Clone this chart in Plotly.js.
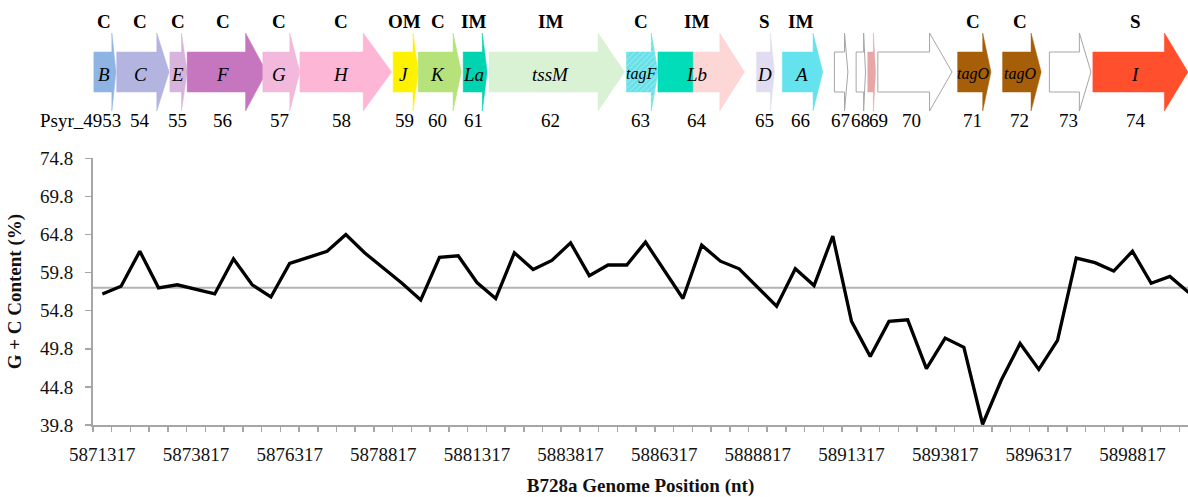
<!DOCTYPE html>
<html><head><meta charset="utf-8">
<script src="https://cdn.plot.ly/plotly-3.0.1.min.js"></script>
<style>html,body{margin:0;padding:0;background:#fff}</style>
</head><body>
<div id="chart" style="width:1188px;height:497px"></div>
<script>
// ---------- G+C content data ----------
const positions = [5871317, 5871817, 5872317, 5872817, 5873317, 5873817, 5874317, 5874817, 5875317, 5875817,
  5876317, 5876817, 5877317, 5877817, 5878317, 5878817, 5879317, 5879817, 5880317, 5880817,
  5881317, 5881817, 5882317, 5882817, 5883317, 5883817, 5884317, 5884817, 5885317, 5885817,
  5886317, 5886817, 5887317, 5887817, 5888317, 5888817, 5889317, 5889817, 5890317, 5890817,
  5891317, 5891817, 5892317, 5892817, 5893317, 5893817, 5894317, 5894817, 5895317, 5895817,
  5896317, 5896817, 5897317, 5897817, 5898317, 5898817, 5899317, 5899817, 5900317];
const gcContent = [57.0, 58.0, 62.6, 57.8, 58.2, 57.6, 57.0, 61.6, 58.2, 56.6,
  61.0, 61.8, 62.6, 64.8, 62.4, 60.4, 58.4, 56.2, 61.8, 62.0,
  58.5, 56.4, 62.4, 60.2, 61.4, 63.7, 59.4, 60.8, 60.8, 63.8,
  60.1, 56.4, 63.4, 61.3, 60.3, 57.9, 55.4, 60.3, 58.1, 64.6,
  53.4, 48.8, 53.4, 53.6, 47.2, 51.2, 50.0, 39.9, 45.7, 50.5,
  47.1, 50.9, 61.7, 61.1, 60.0, 62.6, 58.4, 59.3, 57.2];
const genomeAverage = 57.8;
const xTickVals = [5871317, 5873817, 5876317, 5878817, 5881317, 5883817, 5886317, 5888817, 5891317, 5893817, 5896317, 5898817];
const xTickText = ['5871317', '5873817', '5876317', '5878817', '5881317', '5883817', '5886317', '5888817', '5891317', '5893817', '5896317', '5898817'];
const yTickVals = [39.8, 44.8, 49.8, 54.8, 59.8, 64.8, 69.8, 74.8];
const yTickText = ['39.8', '44.8', '49.8', '54.8', '59.8', '64.8', '69.8', '74.8'];

// ---------- gene map data ----------
const geneNames = ['B', 'C', 'E', 'F', 'G', 'H', 'J', 'K', 'La', 'tssM', 'tagF', 'Lb', 'D', 'A', '', '', '', '', 'tagO', 'tagO', '', 'I'];
const geneIds = ['Psyr_4953', '54', '55', '56', '57', '58', '59', '60', '61', '62', '63', '64', '65', '66', '67', '68', '69', '70', '71', '72', '73', '74'];
const geneClass = ['C', 'C', 'C', 'C', 'C', 'C', 'OM', 'C', 'IM', 'IM', 'C', 'IM', 'S', 'IM', '', '', '', '', 'C', 'C', '', 'S'];
const geneStart = [5871090, 5871700, 5873120, 5873580, 5875600, 5876590, 5879080, 5879750, 5880950, 5881640, 5885310, 5886150, 5888780, 5889470, 5890860, 5891440, 5891750, 5892020, 5894150, 5895350, 5896600, 5897760];
const geneHead = [5871570, 5872770, 5873430, 5875140, 5876320, 5878280, 5879610, 5880680, 5881460, 5884550, 5885970, 5887800, 5889150, 5890290, 5891130, 5891640, 5891900, 5893400, 5894820, 5896110, 5897400, 5899670];
const geneEnd = [5871680, 5873100, 5873580, 5875700, 5876590, 5879040, 5879750, 5880900, 5881590, 5885260, 5886150, 5888460, 5889260, 5890550, 5891220, 5891690, 5891960, 5894000, 5895040, 5896380, 5897710, 5900300];
const geneColor = ['#8DB4E2', '#B4B4E0', '#D7B4DB', '#C676BF', '#F2B9DC', '#FDB6D6', '#FFF200', '#B5E27A', '#00D3B0', '#D9F2D4', '#66E0E8', '#FDD6D6', '#E1DCF0', '#64E3EF', '#FFFFFF', '#FFFFFF', '#E8A6A6', '#FFFFFF', '#A65E08', '#A65E08', '#FFFFFF', '#FF4F2C'];
// Lb is two-coloured: first part of its body
const overlayGene = [11];
const overlayEnd = [5887080];
const overlayColor = ['#00DDB8'];

// ---------- layout constants ----------
const W = 1188, H = 497, M = {l: 93, r: 0, t: 0, b: 72};
const X_RANGE = [5871067, 5900300];
const pxPerNt = (W - M.l - M.r) / (X_RANGE[1] - X_RANGE[0]);
const BODY_TOP = 52, BODY_BOT = 92, HEAD_TOP = 33, HEAD_BOT = 111, MID = 72;
const Y_CLASS = 21, Y_NAME = 74, Y_NUM = 120;
const SERIF = 'Liberation Serif, Times New Roman, serif';

const traces = [];
for (let i = 0; i < geneNames.length; i++) {
  const s = geneStart[i], h = geneHead[i], e = geneEnd[i];
  const white = geneColor[i].toUpperCase() === '#FFFFFF';
  const t = {
    x: [s, h, h, e, h, h, s, s],
    y: [BODY_TOP, BODY_TOP, HEAD_TOP, MID, HEAD_BOT, BODY_BOT, BODY_BOT, BODY_TOP],
    xaxis: 'x2', yaxis: 'y2', type: 'scatter', mode: 'lines', fill: 'toself',
    fillcolor: geneColor[i],
    line: {color: white ? '#A6A6A6' : geneColor[i], width: white ? 1 : 0.5},
    hoverinfo: 'skip', showlegend: false
  };
  if (geneNames[i] === 'tagF') {
    t.fillpattern = {shape: '/', bgcolor: geneColor[i], fgcolor: '#92E9EE', size: 4, solidity: 0.3};
  }
  traces.push(t);
}
for (let k = 0; k < overlayGene.length; k++) {
  const g = overlayGene[k];
  traces.push({
    x: [geneStart[g], overlayEnd[k], overlayEnd[k], geneStart[g], geneStart[g]],
    y: [BODY_TOP, BODY_TOP, BODY_BOT, BODY_BOT, BODY_TOP],
    xaxis: 'x2', yaxis: 'y2', type: 'scatter', mode: 'lines', fill: 'toself',
    fillcolor: overlayColor[k], line: {color: overlayColor[k], width: 0.5},
    hoverinfo: 'skip', showlegend: false
  });
}

traces.push({
  x: positions, y: gcContent, type: 'scatter', mode: 'lines',
  line: {color: '#000000', width: 3.3}, xaxis: 'x', yaxis: 'y',
  hoverinfo: 'skip', showlegend: false
});

// ---------- gene annotations ----------
const annotations = [];
let prevNumPx = -1e9;
for (let i = 0; i < geneNames.length; i++) {
  const cx = geneStart[i] + 0.45 * (geneEnd[i] - geneStart[i]);
  if (geneClass[i]) {
    annotations.push({x: cx, y: Y_CLASS, xref: 'x2', yref: 'y2', text: '<b>' + geneClass[i] + '</b>',
      showarrow: false, font: {family: SERIF, size: 19, color: '#000'}});
  }
  if (geneNames[i]) {
    const small = geneNames[i].length >= 4 && (geneHead[i] - geneStart[i]) * pxPerNt < 40;
    annotations.push({x: cx, y: Y_NAME, xref: 'x2', yref: 'y2', text: '<i>' + geneNames[i] + '</i>',
      showarrow: false, font: {family: SERIF, size: small ? 16 : 19, color: '#000'}});
  }
  // number labels, nudged so that they never overlap
  let px = (cx - X_RANGE[0]) * pxPerNt;
  let shift = 0;
  if (px < prevNumPx + 18.5) { shift = prevNumPx + 18.5 - px; px += shift; }
  prevNumPx = px;
  const isFirst = geneIds[i].indexOf('_') >= 0;
  annotations.push({x: cx, y: Y_NUM, xref: 'x2', yref: 'y2', text: geneIds[i],
    xanchor: isFirst ? 'right' : 'center', xshift: isFirst ? 19 : shift,
    showarrow: false, font: {family: SERIF, size: 19, color: '#000'}});
}

const plotH = H - M.t - M.b;
const layout = {
  width: W, height: H, margin: M, paper_bgcolor: '#fff', plot_bgcolor: '#fff',
  showlegend: false,
  xaxis: {
    domain: [0, 1], range: X_RANGE, anchor: 'y',
    tickmode: 'array', tickvals: xTickVals, ticktext: xTickText,
    ticks: 'outside', ticklen: 5, tickcolor: 'rgba(0,0,0,0)', ticklabelstandoff: 6,
    showline: true, linecolor: '#A6A6A6', linewidth: 2, showgrid: false, zeroline: false,
    tickfont: {family: SERIF, size: 19, color: '#111'},
    minor: {tickmode: 'linear', tick0: 5871067, dtick: 500, ticks: 'outside', ticklen: 5,
      tickcolor: '#A6A6A6', tickwidth: 1.5, showgrid: false},
    title: {text: '<b>B728a Genome Position (nt)</b>', font: {family: SERIF, size: 19, color: '#111'}, standoff: 17}
  },
  yaxis: {
    domain: [0, 1 - 158.3 / plotH], range: [39.8, 74.8], anchor: 'x',
    tickmode: 'array', tickvals: yTickVals, ticktext: yTickText,
    ticks: 'outside', ticklen: 6, tickcolor: '#A6A6A6', tickwidth: 1.5, ticklabelstandoff: 8,
    showline: true, linecolor: '#A6A6A6', linewidth: 2, showgrid: false, zeroline: false,
    tickfont: {family: SERIF, size: 19, color: '#111'},
    title: {text: '<b>G + C Content (%)</b>', font: {family: SERIF, size: 19, color: '#111'}, standoff: 13}
  },
  xaxis2: {domain: [0, 1], range: X_RANGE, anchor: 'y2', visible: false, fixedrange: true},
  yaxis2: {domain: [1 - 140 / plotH, 1], range: [140, 0], anchor: 'x2', visible: false, fixedrange: true},
  shapes: [{type: 'line', xref: 'paper', x0: 0, x1: 1, yref: 'y', y0: genomeAverage, y1: genomeAverage,
    line: {color: '#B3B3B3', width: 2}, layer: 'below'}],
  annotations: annotations
};

Plotly.newPlot('chart', traces, layout, {displayModeBar: false, staticPlot: true});
</script>
</body></html>
